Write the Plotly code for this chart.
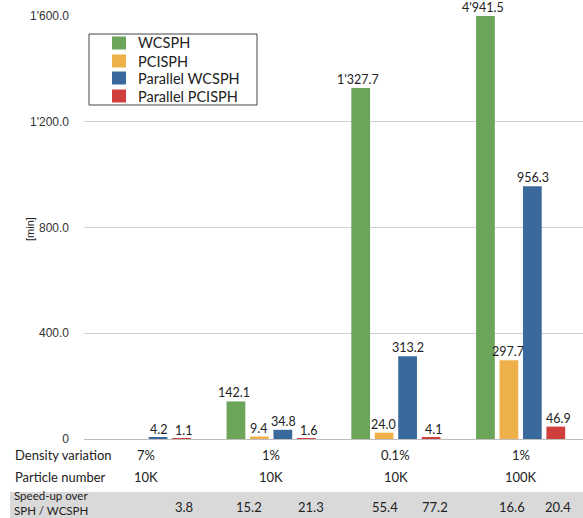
import plotly.graph_objects as go

categories = ["g1", "g2", "g3", "g4"]
density_variation = ["7%", "1%", "0.1%", "1%"]
particle_number = ["10K", "10K", "10K", "100K"]
series_names = ["WCSPH", "PCISPH", "Parallel WCSPH", "Parallel PCISPH"]
wcsph = [None, 142.1, 1327.7, 4941.5]
pcisph = [None, 9.4, 24.0, 297.7]
par_wcsph = [4.2, 34.8, 313.2, 956.3]
par_pcisph = [1.1, 1.6, 4.1, 46.9]
speedups = [3.8, 15.2, 21.3, 55.4, 77.2, 16.6, 20.4]
y_tick_vals = [0, 400, 800, 1200, 1600]
y_tick_text = ["0", "400.0", "800.0", "1'200.0", "1'600.0"]

colors = ["#6BA55A", "#EEB04A", "#3A6A9C", "#CF403D"]
series = [wcsph, pcisph, par_wcsph, par_pcisph]
YMAX = 1600
offsets = [-0.3, -0.1, 0.1, 0.3]
speedup_x = [0.3, 0.82, 1.32, 1.91, 2.31, 2.93, 3.30]

LABEL_FONT = "Lato, 'Open Sans', sans-serif"
PW, PH, L, T = 499.0, 423.0, 84, 16

def px_(x):
    return (x - L) / PW

def py(y):
    return (T + PH - y) / PH

fig = go.Figure()
for name, vals, col in zip(series_names, series, colors):
    fig.add_trace(go.Bar(x=categories, y=vals, name=name, marker_color=col,
                         marker_line_width=0, hoverinfo="skip"))

ann = []
for k, vals in enumerate(series):
    for i, v in enumerate(vals):
        if v is None:
            continue
        ann.append(dict(x=i + offsets[k], y=min(v, YMAX), xref="x", yref="y",
                        text=f"{v:,.1f}".replace(",", "'"), showarrow=False,
                        yanchor="bottom", yshift=-1,
                        font=dict(family=LABEL_FONT, size=12.5, color="#222")))

for i in range(4):
    ann.append(dict(x=i, y=py(455), xref="x", yref="paper", text=density_variation[i],
                    showarrow=False, yanchor="middle",
                    font=dict(family=LABEL_FONT, size=13, color="#222")))
    ann.append(dict(x=i, y=py(477), xref="x", yref="paper", text=particle_number[i],
                    showarrow=False, yanchor="middle",
                    font=dict(family=LABEL_FONT, size=13, color="#222")))

row_labels = [("Density variation", 455), ("Particle number", 477)]
for txt, yy in row_labels:
    ann.append(dict(x=px_(13), y=py(yy), xref="paper", yref="paper",
                    text=txt, showarrow=False, xanchor="left", yanchor="middle",
                    font=dict(family=LABEL_FONT, size=13, color="#222")))
ann.append(dict(x=px_(13), y=py(518), xref="paper", yref="paper",
                text="Speed-up over<br>SPH / WCSPH", showarrow=False,
                xanchor="left", yanchor="bottom", align="left", borderpad=0,
                font=dict(family=LABEL_FONT, size=11.5, color="#222")))
for sx, s in zip(speedup_x, speedups):
    ann.append(dict(x=sx, y=py(507), xref="x", yref="paper", text=f"{s:.1f}",
                    showarrow=False, yanchor="middle",
                    font=dict(family=LABEL_FONT, size=13, color="#222")))

ann.append(dict(x=px_(22), y=py(229), xref="paper", yref="paper",
                text="[min]", showarrow=False, textangle=-90,
                font=dict(family="Liberation Sans, Arial", size=11, color="#222")))

shapes = [dict(type="rect", xref="paper", yref="paper",
               x0=px_(10), x1=1.01, y0=py(518) - 0.01, y1=py(492),
               fillcolor="#D9D9D9", line_width=0, layer="below")]

# legend box drawn as shapes + text
shapes.append(dict(type="rect", xref="paper", yref="paper",
                   x0=px_(89), x1=px_(257), y0=py(105), y1=py(34),
                   fillcolor="white", line=dict(color="#444", width=1), layer="above"))
leg_y = [43, 61, 78, 96]
for name, col, yy in zip(series_names, colors, leg_y):
    shapes.append(dict(type="rect", xref="paper", yref="paper",
                       x0=px_(112), x1=px_(126), y0=py(yy + 6.5), y1=py(yy - 6.5),
                       fillcolor=col, line_width=0, layer="above"))
    ann.append(dict(x=px_(136), y=py(yy), xref="paper", yref="paper", text=name,
                    showarrow=False, xanchor="left", yanchor="middle",
                    font=dict(family=LABEL_FONT, size=14.5, color="#222")))

fig.update_layout(
    width=583, height=518,
    margin=dict(l=L, r=0, t=T, b=79),
    paper_bgcolor="white", plot_bgcolor="white",
    barmode="group", bargap=0.248, bargroupgap=0.2,
    showlegend=False,
    xaxis=dict(type="category", range=[-0.5, 3.5], showticklabels=False,
               showgrid=False, zeroline=False, showline=False, ticks=""),
    yaxis=dict(range=[0, YMAX], tickvals=y_tick_vals, ticktext=y_tick_text,
               showgrid=True, gridcolor="#CFCFCF", gridwidth=1,
               zeroline=True, zerolinecolor="#BDBDBD", zerolinewidth=1,
               showline=False, ticks="", ticklabelstandoff=14,
               tickfont=dict(family="Liberation Sans, Arial", size=12, color="#333")),
    annotations=ann, shapes=shapes,
)

fig.write_html("out.html", config={"displayModeBar": False},
               post_script="document.body.style.margin='0';document.body.style.padding='0';")
